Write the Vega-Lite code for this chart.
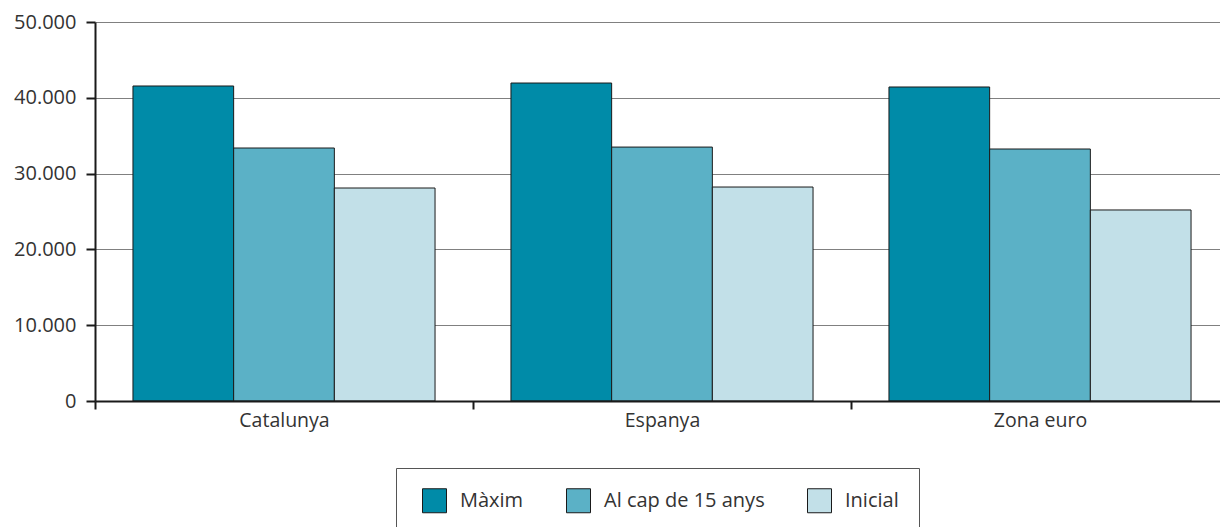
{
  "$schema": "https://vega.github.io/schema/vega-lite/v6.json",
  "width": 1134,
  "height": 379,
  "autosize": {"type": "none"},
  "padding": {"left": 95, "top": 22, "right": 0, "bottom": 126},
  "background": "white",
  "data": {
    "values": [
      {"regio": "Catalunya", "serie": "Màxim", "valor": 41557},
      {"regio": "Catalunya", "serie": "Al cap de 15 anys", "valor": 33377},
      {"regio": "Catalunya", "serie": "Inicial", "valor": 28100},
      {"regio": "Espanya", "serie": "Màxim", "valor": 41950},
      {"regio": "Espanya", "serie": "Al cap de 15 anys", "valor": 33500},
      {"regio": "Espanya", "serie": "Inicial", "valor": 28230},
      {"regio": "Zona euro", "serie": "Màxim", "valor": 41425},
      {"regio": "Zona euro", "serie": "Al cap de 15 anys", "valor": 33245},
      {"regio": "Zona euro", "serie": "Inicial", "valor": 25200}
    ]
  },
  "mark": {"type": "bar", "stroke": "#1a1a1a", "strokeWidth": 1},
  "encoding": {
    "x": {
      "field": "regio",
      "type": "nominal",
      "sort": ["Catalunya", "Espanya", "Zona euro"],
      "scale": {"paddingInner": 0, "paddingOuter": 0},
      "axis": {
        "title": null,
        "labelAngle": 0,
        "tickBand": "extent",
        "domainColor": "#1a1a1a",
        "domainWidth": 2,
        "tickColor": "#1a1a1a",
        "tickWidth": 2,
        "tickSize": 8,
        "labelPadding": 2,
        "labelFont": "Open Sans",
        "labelFontSize": 19.5,
        "labelColor": "#333333",
        "zindex": 1
      }
    },
    "xOffset": {
      "field": "serie",
      "type": "nominal",
      "sort": ["Màxim", "Al cap de 15 anys", "Inicial"],
      "scale": {"paddingInner": 0, "paddingOuter": 0.377}
    },
    "y": {
      "field": "valor",
      "type": "quantitative",
      "scale": {"domain": [0, 50000], "nice": false},
      "axis": {
        "title": null,
        "values": [0, 10000, 20000, 30000, 40000, 50000],
        "labelExpr": "replace(format(datum.value, ','), ',', '.')",
        "grid": true,
        "gridColor": "#808080",
        "gridWidth": 1,
        "domainColor": "#1a1a1a",
        "domainWidth": 2,
        "tickColor": "#1a1a1a",
        "tickWidth": 2,
        "tickSize": 9,
        "labelPadding": 10,
        "labelFont": "Open Sans",
        "labelFontSize": 20,
        "labelColor": "#333333"
      }
    },
    "fill": {
      "field": "serie",
      "type": "nominal",
      "sort": ["Màxim", "Al cap de 15 anys", "Inicial"],
      "scale": {
        "domain": ["Màxim", "Al cap de 15 anys", "Inicial"],
        "range": ["#008ba8", "#5bb1c6", "#c2e0e8"]
      },
      "legend": {
        "title": null,
        "orient": "none",
        "legendX": 301,
        "legendY": 446,
        "direction": "horizontal",
        "symbolType": "square",
        "symbolSize": 576,
        "symbolStrokeColor": "#1a1a1a",
        "symbolStrokeWidth": 1,
        "symbolOffset": 6,
        "labelFont": "Open Sans",
        "labelFontSize": 20,
        "labelLimit": 400,
        "labelColor": "#333333",
        "labelOffset": 13,
        "columnPadding": 36,
        "padding": 20,
        "strokeColor": "#555555",
        "fillColor": "white"
      }
    }
  },
  "config": {"view": {"stroke": null}}
}
